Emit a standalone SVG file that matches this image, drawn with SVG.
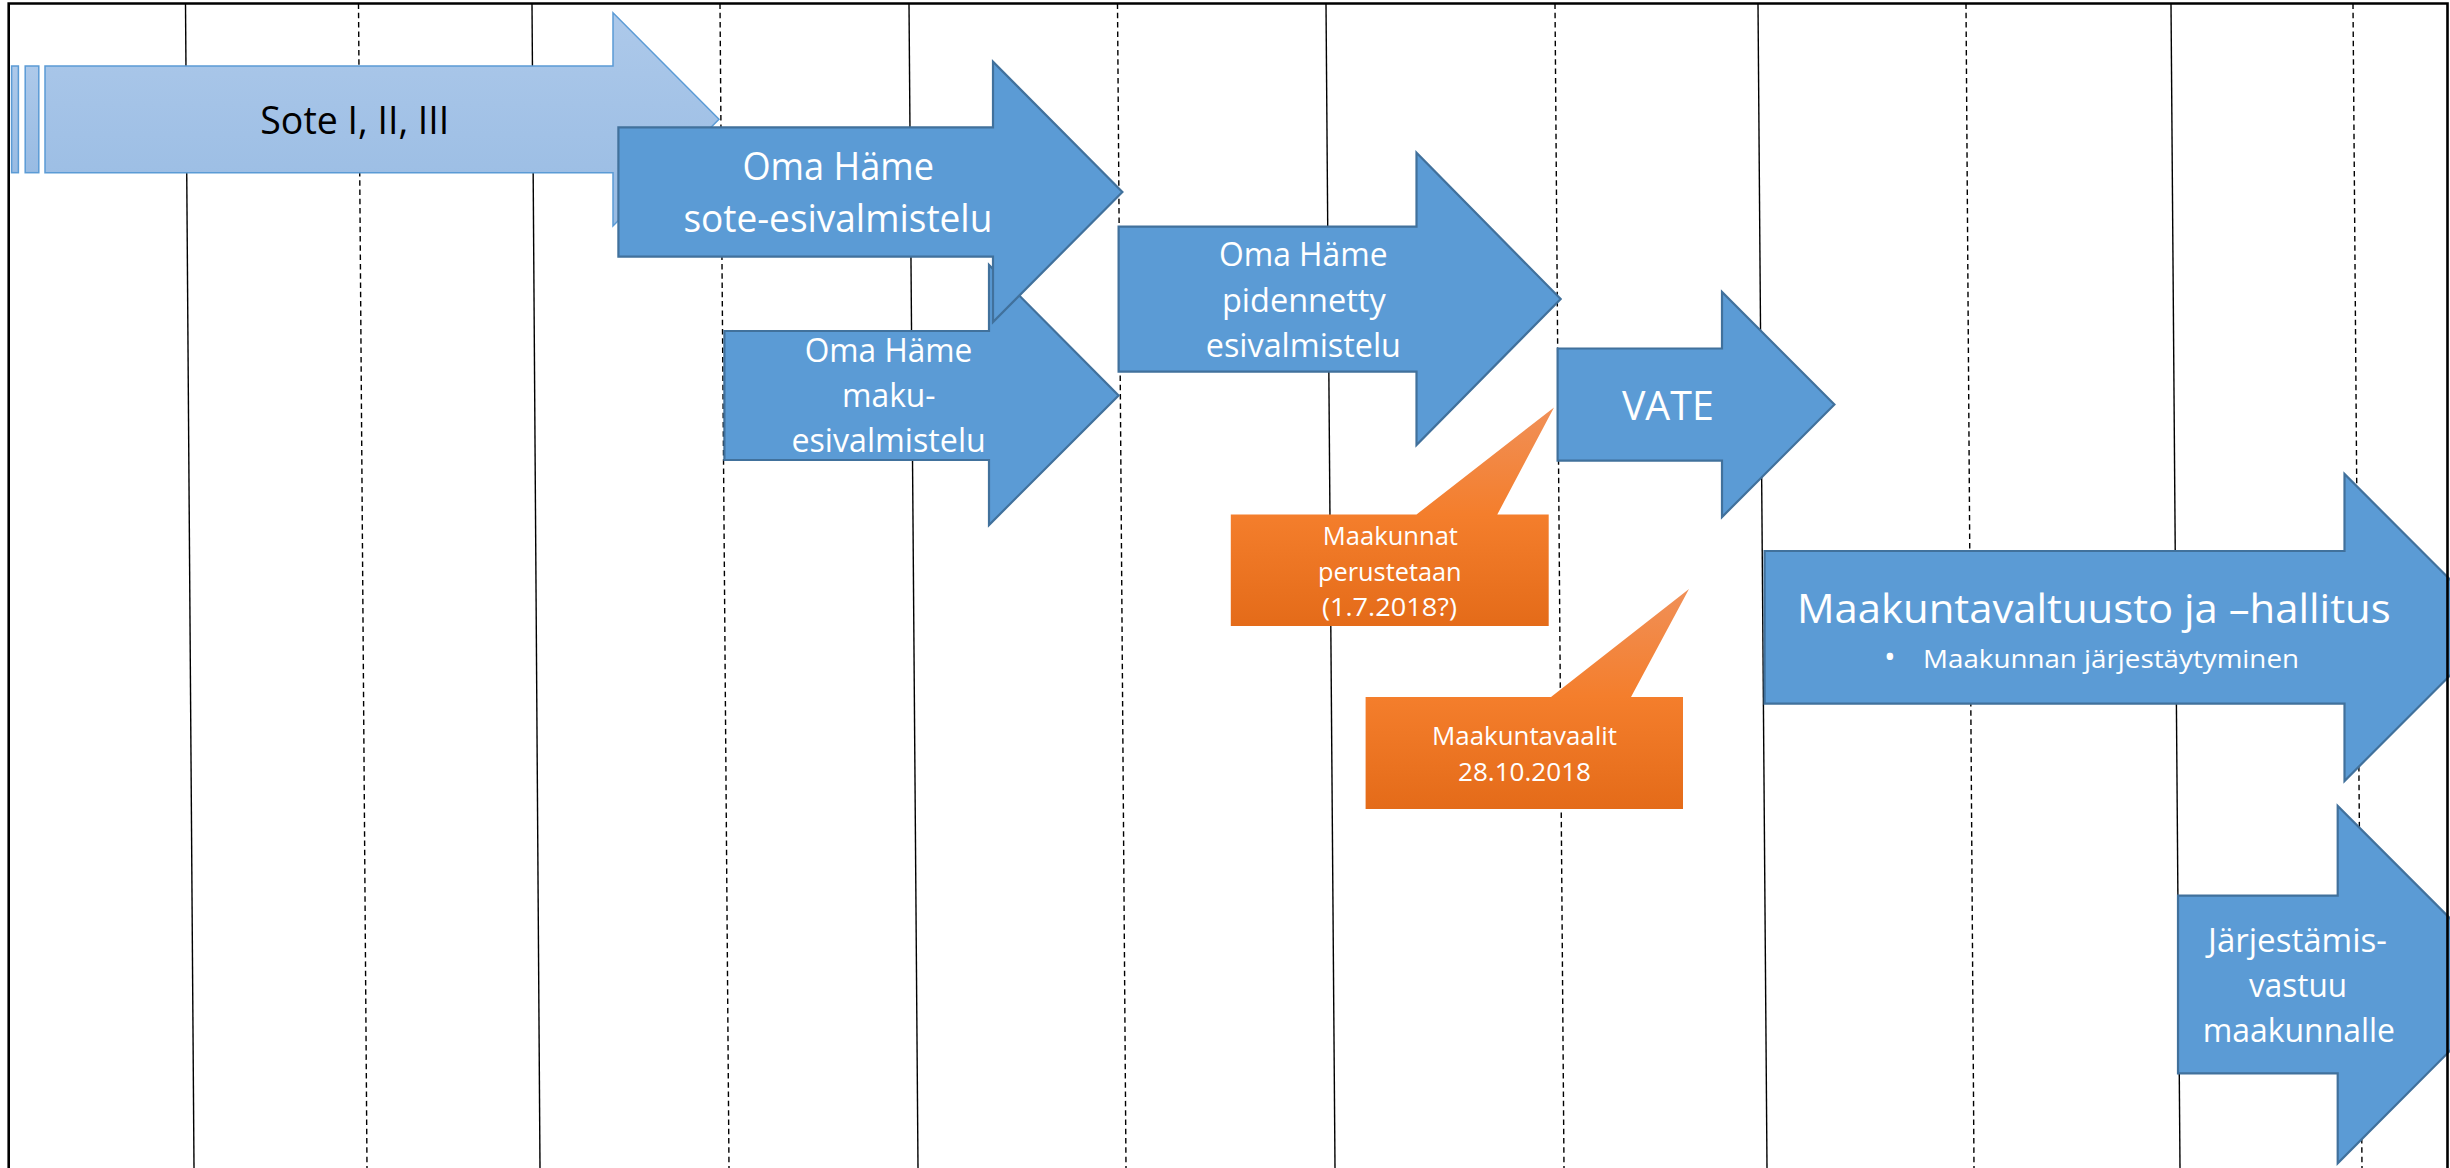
<svg xmlns="http://www.w3.org/2000/svg" width="2450" height="1168" viewBox="0 0 2450 1168">
<defs>
<linearGradient id="gLight" x1="0" y1="0" x2="0" y2="1">
<stop offset="0" stop-color="#adc9ea"/>
<stop offset="1" stop-color="#98bbe3"/>
</linearGradient>
<linearGradient id="gOrange" x1="0" y1="0" x2="0" y2="1">
<stop offset="0" stop-color="#f09058"/>
<stop offset="0.49" stop-color="#f47e2c"/>
<stop offset="1" stop-color="#e46b19"/>
</linearGradient>
</defs>
<style>
.solid{stroke:#000;stroke-width:1.4;fill:none}
.dash{stroke:#000;stroke-width:1.4;fill:none;stroke-dasharray:5.5 3.8}
.blue{fill:#5b9bd5;stroke:#41719c;stroke-width:2.2;stroke-linejoin:miter}
.light{fill:url(#gLight);stroke:#5b9bd5;stroke-width:1.5}
.orange{fill:url(#gOrange);stroke:none}
text{font-family:"Open Sans","Noto Sans","DejaVu Sans",sans-serif}
.w{fill:#fff}
.k{fill:#000}
.f38{font-size:38px}
.f33{font-size:33.3px}
.f40{font-size:39.6px}
.f25{font-size:25.2px}
.f26{font-size:26px}
</style>
<rect x="0" y="0" width="2450" height="1168" fill="#fff"/>
<g id="grid">
<line class="solid" x1="185.5" y1="3.5" x2="194" y2="1168"/>
<line class="dash" x1="358.5" y1="3.5" x2="367" y2="1168"/>
<line class="solid" x1="532" y1="3.5" x2="540" y2="1168"/>
<line class="dash" x1="720" y1="3.5" x2="729" y2="1168"/>
<line class="solid" x1="909" y1="3.5" x2="918" y2="1168"/>
<line class="dash" x1="1117.5" y1="3.5" x2="1126" y2="1168"/>
<line class="solid" x1="1326" y1="3.5" x2="1335" y2="1168"/>
<line class="dash" x1="1555" y1="3.5" x2="1564" y2="1168"/>
<line class="solid" x1="1758" y1="3.5" x2="1767" y2="1168"/>
<line class="dash" x1="1966" y1="3.5" x2="1974" y2="1168"/>
<line class="solid" x1="2171" y1="3.5" x2="2180" y2="1168"/>
<line class="dash" x1="2353" y1="3.5" x2="2362" y2="1168"/>
</g>
<g id="connectors"/>
<g id="sote">
<rect class="light" x="11.6" y="66" width="6.8" height="106.7"/>
<rect class="light" x="25.2" y="66" width="13.6" height="106.7"/>
<path class="light" d="M45,66 H613 V12.7 L719,119.3 L613,226 V172.7 H45 Z"/>
<text class="k f38" x="260.3" y="134.3" textLength="189" lengthAdjust="spacingAndGlyphs">Sote I, II, III</text>
</g>
<g id="maku">
<path class="blue" d="M724.4,331 H989 V265 L1118.6,395.5 L989,525 V460 H724.4 Z"/>
<text class="w f33" x="804.7" y="361.7" textLength="167.7" lengthAdjust="spacingAndGlyphs">Oma Häme</text>
<text class="w f33" x="842" y="406.7" textLength="93.6" lengthAdjust="spacingAndGlyphs">maku-</text>
<text class="w f33" x="791.4" y="451.7" textLength="194.4" lengthAdjust="spacingAndGlyphs">esivalmistelu</text>
</g>
<g id="sote-esi">
<path class="blue" d="M618.4,127.3 H993 V61.7 L1122.4,192 L993,322 V256.7 H618.4 Z"/>
<text class="w f38" x="742.4" y="180" textLength="191.6" lengthAdjust="spacingAndGlyphs">Oma Häme</text>
<text class="w f38" x="683.4" y="231.7" textLength="309" lengthAdjust="spacingAndGlyphs">sote-esivalmistelu</text>
</g>
<g id="pidennetty">
<path class="blue" d="M1118.6,226.7 H1416.5 V152.8 L1560.7,299 L1416.5,445 V371.7 H1118.6 Z"/>
<text class="w f33" x="1219" y="266.4" textLength="168.5" lengthAdjust="spacingAndGlyphs">Oma Häme</text>
<text class="w f33" x="1222" y="311.5" textLength="163.7" lengthAdjust="spacingAndGlyphs">pidennetty</text>
<text class="w f33" x="1205.8" y="356.8" textLength="195.1" lengthAdjust="spacingAndGlyphs">esivalmistelu</text>
</g>
<g id="vate">
<path class="blue" d="M1557.6,348.5 H1722 V292 L1834.4,404.5 L1722,517 V460.6 H1557.6 Z"/>
<text class="w f40" x="1621.9" y="420" textLength="91.9" lengthAdjust="spacingAndGlyphs">VATE</text>
</g>
<g id="maakunnat-perustetaan">
<path class="orange" d="M1230.8,514.5 H1416.5 L1554,407.5 L1497.3,514.5 H1548.7 V626 H1230.8 Z"/>
<text class="w f26" x="1322.8" y="545" textLength="135.2" lengthAdjust="spacingAndGlyphs">Maakunnat</text>
<text class="w f26" x="1318" y="581" textLength="143.6" lengthAdjust="spacingAndGlyphs">perustetaan</text>
<text class="w f26" x="1321.9" y="615.5" textLength="135" lengthAdjust="spacingAndGlyphs">(1.7.2018?)</text>
</g>
<g id="maakuntavaalit">
<path class="orange" d="M1365.6,697 H1551 L1689,589 L1631,697 H1683 V809 H1365.6 Z"/>
<text class="w f26" x="1432" y="744.8" textLength="185" lengthAdjust="spacingAndGlyphs">Maakuntavaalit</text>
<text class="w f26" x="1458" y="781" textLength="133" lengthAdjust="spacingAndGlyphs">28.10.2018</text>
</g>
<g id="maakuntavaltuusto">
<path class="blue" d="M1764.6,551 H2344.5 V474 L2498,627.4 L2344.5,781 V703.7 H1764.6 Z"/>
<text class="w f40" x="1797" y="623.3" textLength="593.6" lengthAdjust="spacingAndGlyphs">Maakuntavaltuusto ja –hallitus</text>
<text class="w f25" y="667.7"><tspan x="1884" font-size="31">•</tspan><tspan x="1923" textLength="376" lengthAdjust="spacingAndGlyphs">Maakunnan järjestäytyminen</tspan></text>
</g>
<g id="jarjestamisvastuu">
<path class="blue" d="M2178,895.7 H2337.7 V806 L2516,984.5 L2337.7,1163.3 V1073.3 H2178 Z"/>
<text class="w f33" x="2208" y="952" textLength="179" lengthAdjust="spacingAndGlyphs">Järjestämis-</text>
<text class="w f33" x="2249" y="997" textLength="98" lengthAdjust="spacingAndGlyphs">vastuu</text>
<text class="w f33" x="2202.7" y="1041.7" textLength="192.3" lengthAdjust="spacingAndGlyphs">maakunnalle</text>
</g>
<g id="frame">
<path d="M8.7,1168 V3.5 H2447.5 V1168" fill="none" stroke="#000" stroke-width="2.6"/>
</g>
</svg>
